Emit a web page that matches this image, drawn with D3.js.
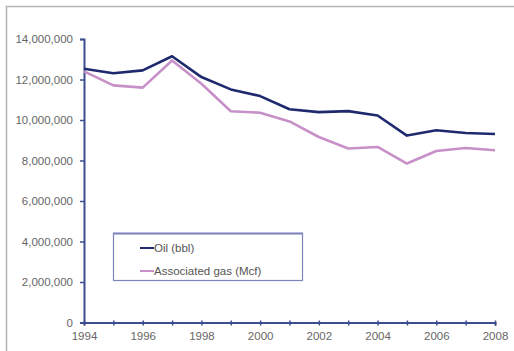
<!DOCTYPE html>
<html>
<head>
<meta charset="utf-8">
<script src="https://cdn.jsdelivr.net/npm/d3@7"></script>
<style>
  html, body { margin: 0; padding: 0; background: #fff; }
  svg { display: block; font-family: "Liberation Sans", Arial, sans-serif; }
</style>
</head>
<body>
<svg id="chart" width="514" height="351"></svg>
<script>
// Annual production, 1994–2008
const years = [1994, 1995, 1996, 1997, 1998, 1999, 2000, 2001, 2002, 2003, 2004, 2005, 2006, 2007, 2008];
const oilBbl = [12530000, 12310000, 12450000, 13150000, 12120000, 11510000, 11180000, 10530000, 10390000, 10440000, 10220000, 9230000, 9490000, 9360000, 9310000];
const gasMcf = [12400000, 11710000, 11600000, 12940000, 11790000, 10430000, 10360000, 9930000, 9160000, 8590000, 8670000, 7850000, 8470000, 8620000, 8510000];
const yTicks = [0, 2000000, 4000000, 6000000, 8000000, 10000000, 12000000, 14000000];
const xTickLabels = [1994, 1996, 1998, 2000, 2002, 2004, 2006, 2008];
const seriesNames = ["Oil (bbl)", "Associated gas (Mcf)"];
const seriesColors = ["#1f2a6e", "#c790c8"];

const svg = d3.select("#chart");

// outer frame (left and top edges)
svg.append("path")
  .attr("d", "M6.5,351 V6.5 H514")
  .attr("fill", "none")
  .attr("stroke", "#b4b4b4")
  .attr("stroke-width", 1.5);

const x = d3.scaleLinear().domain([1994, 2008]).range([84, 495]);
const y = d3.scaleLinear().domain([0, 14000000]).range([322.5, 39]);

const axisColor = "#3d4d8e";
const textColor = "#666";

// y axis
const yAxis = svg.append("g").attr("transform", "translate(84,0)")
  .call(d3.axisLeft(y).tickValues(yTicks).tickSize(4).tickPadding(7)
    .tickFormat(d => d3.format(",")(d)));
yAxis.select(".domain").attr("stroke", axisColor).attr("stroke-width", 2);
yAxis.selectAll(".tick line").attr("stroke", axisColor).attr("stroke-width", 1.5);
yAxis.selectAll(".tick text").attr("fill", textColor).attr("font-size", 11.5);

// x axis
const xAxis = svg.append("g").attr("transform", "translate(0,322.5)")
  .call(d3.axisBottom(x).tickValues(years).tickSize(3).tickPadding(6)
    .tickFormat(d => xTickLabels.includes(d) ? String(d) : ""));
xAxis.select(".domain").attr("stroke", axisColor).attr("stroke-width", 2);
xAxis.selectAll(".tick line").attr("stroke", axisColor).attr("stroke-width", 1.5).attr("y1", -2);
xAxis.selectAll(".tick text").attr("fill", textColor).attr("font-size", 11.5);

// series lines
const line = d3.line().x((d, i) => x(years[i])).y(d => y(d));
[gasMcf, oilBbl].forEach((vals, k) => {
  const idx = k === 0 ? 1 : 0;
  svg.append("path")
    .datum(vals)
    .attr("fill", "none")
    .attr("stroke", seriesColors[idx])
    .attr("stroke-width", 2.6)
    .attr("stroke-linejoin", "round")
    .attr("d", line);
});

// legend
const lg = svg.append("g");
lg.append("rect")
  .attr("x", 113.5).attr("y", 233.5).attr("width", 189).attr("height", 47)
  .attr("fill", "#fff").attr("stroke", "#7e83bd").attr("stroke-width", 1.2);
lg.append("line")
  .attr("x1", 113).attr("x2", 303).attr("y1", 233.5).attr("y2", 233.5)
  .attr("stroke", "#7e83bd").attr("stroke-width", 2);
seriesNames.forEach((name, i) => {
  const yy = 248 + i * 23;
  lg.append("line")
    .attr("x1", 140).attr("x2", 154).attr("y1", yy).attr("y2", yy)
    .attr("stroke", seriesColors[i]).attr("stroke-width", 2);
  lg.append("text")
    .attr("x", 154).attr("y", yy + 4)
    .attr("fill", "#555").attr("font-size", 11.5)
    .text(name);
});
</script>
</body>
</html>
